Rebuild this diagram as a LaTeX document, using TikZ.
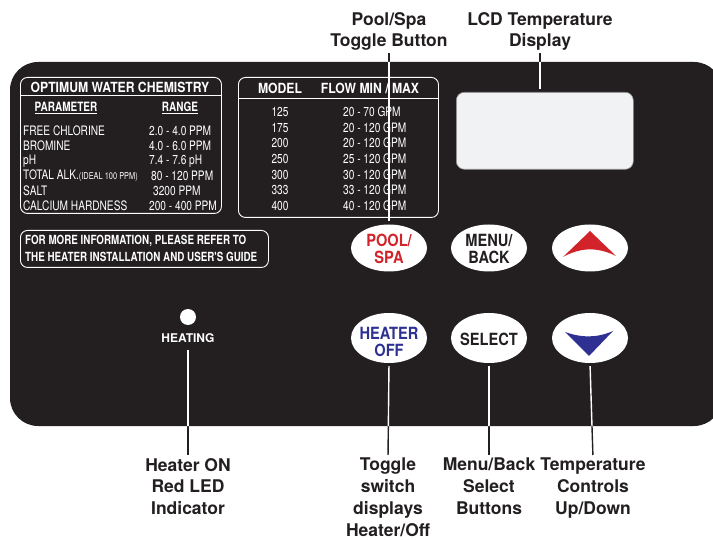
\documentclass[tikz,border=0pt]{standalone}
\usepackage{fontspec}
\setmainfont{TeX Gyre Heros}
\newfontfamily\tabfont{TeX Gyre Heros}[FakeStretch=0.78]
\newfontfamily\btnfont{TeX Gyre Heros}[FakeStretch=0.87]
\usetikzlibrary{shapes.geometric}
\definecolor{panel}{HTML}{231F20}
\definecolor{btnred}{HTML}{D2232A}
\definecolor{btnblue}{HTML}{2E3192}
\definecolor{lcdfill}{HTML}{F1F2F3}
\definecolor{lcdedge}{HTML}{8A8A8C}
\newcommand\calloutlines[1]{%
  \draw[conn,#1] (lblpool.south) -- (btnpool.north);
  \draw[conn,#1] (lbllcd.south) -- (lbllcd.south |- lcd.north);
  \draw[conn,#1] ([yshift=-4pt]heating.south) -- (lblheat.north);
  \draw[conn,#1] (btnheat.south) -- (lbltoggle.north);
  \draw[conn,#1] (btnsel.south) -- (lblmenu.north);
  \draw[conn,#1] (btndown.south) -- (lbltemp.north);
}
\begin{document}
\begin{tikzpicture}[x=1pt,y=-1pt,
  tablebox/.style={draw=white, line width=0.9pt, rounded corners=7pt, inner sep=0pt, anchor=north west},
  boxline/.style={draw=white, line width=0.9pt},
  tabtext/.style={font=\tabfont\fontsize{13}{15}\selectfont, text=white, inner sep=0pt, anchor=west},
  tabhead/.style={font=\tabfont\bfseries\fontsize{12.8}{15}\selectfont, text=white, inner sep=0pt},
  title/.style={font=\btnfont\bfseries\fontsize{14}{16}\selectfont, text=white, inner sep=0pt},
  button/.style={ellipse, fill=white, minimum width=76pt, minimum height=47pt, inner sep=0pt},
  btntext/.style={font=\btnfont\bfseries\fontsize{16.8}{16.5}\selectfont, align=center, inner sep=0pt, text=panel},
  callout/.style={font=\bfseries\fontsize{17.5}{21.8}\selectfont, align=center, inner sep=0pt, text=panel},
  conn/.style={line width=1.4pt, shorten <=3pt, shorten >=3pt},
]
\useasboundingbox (0,0) rectangle (713,540);
% panel
\fill[panel, rounded corners=28pt] (10,62) rectangle (722,426);

% chemistry table
\node[tablebox, minimum width=201pt, minimum height=136pt] (chem) at (20,77) {};
\draw[boxline] (chem.west |- 0,95) -- (chem.east |- 0,95);
\node[title] (chemtitle) at (120,87) {OPTIMUM WATER CHEMISTRY};
\node[tabhead] (parhead) at (66,108) {\underline{PARAMETER}};
\node[tabhead] (rnghead) at (180,108) {\underline{RANGE}};
\node[tabtext] (p1) at (23,131) {FREE CHLORINE};
\node[tabtext] (p2) at (23,146) {BROMINE};
\node[tabtext] (p3) at (23,161) {pH};
\node[tabtext] (p4) at (23,176) {TOTAL ALK.{\fontsize{9.5}{10}\selectfont(IDEAL 100 PPM)}};
\node[tabtext] (p5) at (23,191) {SALT};
\node[tabtext] (p6) at (23,206) {CALCIUM HARDNESS};
\node[tabtext] (r1) at (149,131) {2.0 - 4.0 PPM};
\node[tabtext] (r2) at (149,146) {4.0 - 6.0 PPM};
\node[tabtext] (r3) at (149,161) {7.4 - 7.6 pH};
\node[tabtext] (r4) at (151,176) {80 - 120 PPM};
\node[tabtext] (r5) at (153,191) {3200 PPM};
\node[tabtext] (r6) at (149,206) {200 - 400 PPM};

% flow table
\node[tablebox, minimum width=200pt, minimum height=140pt] (flow) at (238,77) {};
\draw[boxline] (flow.west |- 0,98) -- (flow.east |- 0,98);
\node[title] (modelhead) at (280,88) {MODEL};
\node[title] (flowhead) at (370,88) {FLOW MIN / MAX};
\foreach \i/\y/\m/\f in {1/112/125/20 - 70 GPM, 2/128/175/20 - 120 GPM, 3/143/200/20 - 120 GPM, 4/159/250/25 - 120 GPM, 5/175/300/30 - 120 GPM, 6/190/333/33 - 120 GPM, 7/206/400/40 - 120 GPM}{
  \node[tabtext, anchor=center] (m\i) at (280,\y) {\m};
  \node[tabtext] (f\i) at (343,\y) {\f};
}

% info box
\node[tablebox, minimum width=248pt, minimum height=37pt] (info) at (20,230) {};
\node[font=\tabfont\bfseries\fontsize{12.6}{17}\selectfont, text=white, align=left, inner sep=0pt, anchor=west] (infotext) at (25,248.5)
  {FOR MORE INFORMATION, PLEASE REFER TO\\THE HEATER INSTALLATION AND USER'S GUIDE};

% LCD
\node[draw=lcdedge, fill=lcdfill, line width=0.6pt, rounded corners=8pt, minimum width=177pt, minimum height=77pt, anchor=north west, inner sep=0pt] (lcd) at (456,92) {};

% LED
\node[circle, fill=white, minimum size=16pt, inner sep=0pt] (led) at (188,317) {};
\node[font=\bfseries\fontsize{12}{14}\selectfont, text=white, inner sep=0pt] (heating) at (188,338) {HEATING};

% buttons
\node[button] (btnpool) at (389,248) {};
\node[btntext, text=btnred] (txtpool) at (389,249) {POOL/\\SPA};
\node[button] (btnmenu) at (489,248) {};
\node[btntext] (txtmenu) at (489,249) {MENU/\\BACK};
\node[button] (btnup) at (590,248) {};
\node[button, minimum height=50pt] (btnheat) at (389,338) {};
\node[btntext, text=btnblue] (txtheat) at (389,342) {HEATER\\OFF};
\node[button, minimum height=50pt] (btnsel) at (489,338) {};
\node[btntext] (txtsel) at (489,339) {SELECT};
\node[button, minimum height=50pt] (btndown) at (590,338) {};
\begin{scope}[shift={(btnup.center)}]
  \fill[btnred] (0,-17) -- (26,8) .. controls (8,-1) and (-9,-1) .. (-27,9) -- cycle;
\end{scope}
\begin{scope}[shift={(btndown.center)}]
  \fill[btnblue] (-25,-6) .. controls (-8,0) and (7,0) .. (23,-7) -- (-1,18) -- cycle;
\end{scope}

% callout labels
\node[callout, anchor=north] (lblpool) at (389,12) {Pool/Spa\\[-0.5pt]Toggle Button};
\node[callout, anchor=north] (lbllcd) at (540,12) {LCD Temperature\\[-0.5pt]Display};
\node[callout, anchor=north] (lblheat) at (188,458) {Heater ON\\Red LED\\Indicator};
\node[callout, anchor=north] (lbltoggle) at (388,458) {Toggle\\switch\\displays\\Heater/Off};
\node[callout, anchor=north] (lblmenu) at (489,458) {Menu/Back\\Select\\Buttons};
\node[callout, anchor=north] (lbltemp) at (593,458) {Temperature\\Controls\\Up/Down};

% connectors: dark outside panel, white on panel
\calloutlines{draw=panel}
\begin{scope}
  \clip[rounded corners=28pt] (10,62) rectangle (722,426);
  \calloutlines{draw=white}
\end{scope}
\end{tikzpicture}
\end{document}
